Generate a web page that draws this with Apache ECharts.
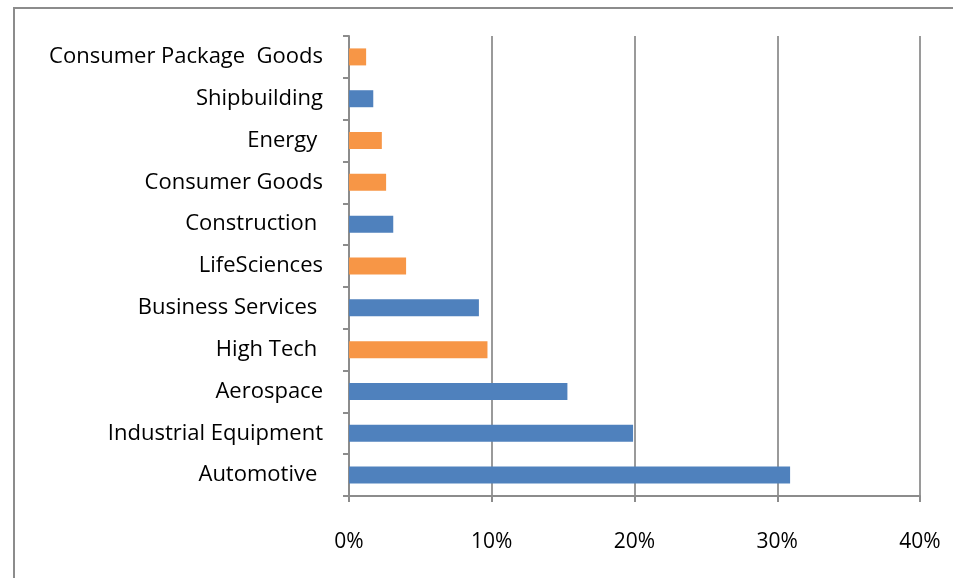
<!DOCTYPE html>
<html>
<head>
<meta charset="utf-8">
<script src="https://cdn.jsdelivr.net/npm/echarts@6/dist/echarts.min.js"></script>
<style>
  html, body { margin: 0; padding: 0; background: #fff; }
  #chart { width: 953px; height: 578px; }
</style>
</head>
<body>
<div id="chart"></div>
<script>
// 行业分布 —— 横向柱状图（从下到上）
const categories = ['Automotive ', 'Industrial Equipment', 'Aerospace', 'High Tech ', 'Business Services ',
  'LifeSciences', 'Construction ', 'Consumer Goods', 'Energy ', 'Shipbuilding', 'Consumer Package  Goods']
const values = [30.9, 19.9, 15.3, 9.7, 9.1, 4.0, 3.1, 2.6, 2.3, 1.7, 1.2]
const groups = ['A', 'A', 'A', 'B', 'A', 'B', 'A', 'B', 'B', 'A', 'B']
const tickLabels = [0, 10, 20, 30, 40]

const groupColor = { A: '#4F81BD', B: '#F79646' }
const font = '"Open Sans", sans-serif'

const chart = echarts.init(document.getElementById('chart'))
chart.setOption({
  animation: false,
  // 外边框
  graphic: [{
    type: 'rect',
    shape: { x: 14, y: 8, width: 960, height: 600 },
    style: { fill: 'none', stroke: '#8c8c8c', lineWidth: 2 },
    silent: true
  }],
  grid: { left: 349, right: 33, top: 36, bottom: 82 },
  xAxis: {
    type: 'value',
    min: tickLabels[0],
    max: tickLabels[tickLabels.length - 1],
    interval: 10,
    axisLine: { show: true, lineStyle: { color: '#8c8c8c', width: 2 } },
    axisTick: { show: true, length: 6, lineStyle: { color: '#8c8c8c', width: 2 } },
    splitLine: { show: true, lineStyle: { color: '#9a9a9a', width: 2 } },
    axisLabel: { color: '#000', fontSize: 21, fontFamily: font, margin: 36, formatter: v => v + '%' }
  },
  yAxis: {
    type: 'category',
    data: categories,
    axisLine: { show: true, lineStyle: { color: '#8c8c8c', width: 2 } },
    axisTick: { show: true, length: 6, lineStyle: { color: '#8c8c8c', width: 2 } },
    axisLabel: { color: '#000', fontSize: 22, fontFamily: font, margin: 26, padding: [6, 0, 0, 0] }
  },
  series: [{
    type: 'bar',
    barWidth: 17,
    data: values.map((v, i) => ({ value: v, itemStyle: { color: groupColor[groups[i]] } }))
  }]
})
</script>
</body>
</html>
